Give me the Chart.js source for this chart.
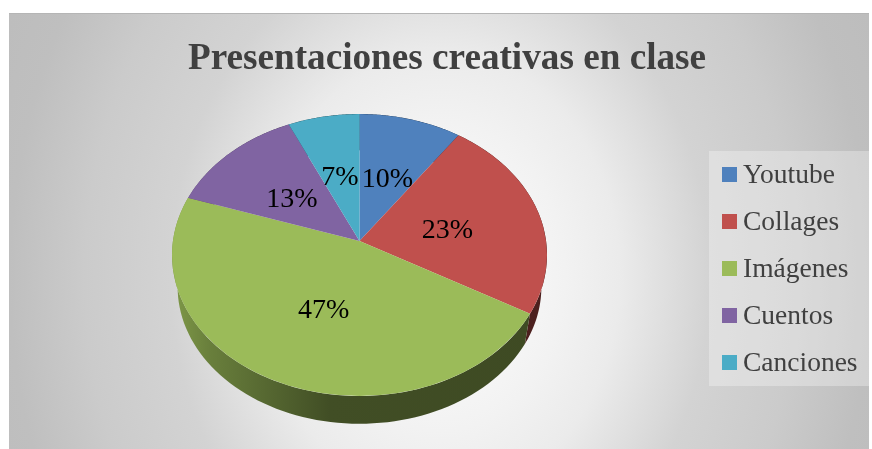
<!DOCTYPE html>
<html>
<head>
<meta charset="utf-8">
<title>Presentaciones creativas en clase</title>
<script src="https://cdn.jsdelivr.net/npm/chart.js@4"></script>
<style>
    html, body { margin: 0; padding: 0; background: #fff; }
    #frame {
        position: absolute; left: 9px; top: 13px; width: 860px; height: 436px;
        border-top: 1px solid #b5b5b5; box-sizing: border-box;
        background: radial-gradient(ellipse 500px 620px at 431px 262px, #ffffff 0%, #f2f2f2 25%, #ebebeb 36%, #d3d3d3 54%, #cbcbcb 71%, #bfbfbf 86%, #bcbcbc 100%);
    }
    #frame canvas { position: absolute; left: 0; top: 0; }
    #legend {
        position: absolute; left: 700px; top: 137px; width: 160px; height: 235px;
        background: rgba(255,255,255,0.3);
        font: 27.5px "Liberation Serif", serif; color: #404040;
    }
    #legend div { position: absolute; left: 34px; line-height: 32px; white-space: nowrap; }
    #legend span { position: absolute; left: -21px; top: 9px; width: 15px; height: 15px; }
</style>
</head>
<body>
<div id="frame">
    <canvas id="pie" width="860" height="436"></canvas>
    <div id="legend"></div>
</div>
<script>
const titleText = "Presentaciones creativas en clase";
const categories = ["Youtube", "Collages", "Imágenes", "Cuentos", "Canciones"];
const percentages = [10, 23, 47, 13, 7];
const sliceColors = ["#4f81bd", "#c0504d", "#9bbb59", "#8064a2", "#4bacc6"];

// Tilted pie look: ellipse of the top face, and the point the slices meet at
const face = { cx: 350.5, cy: 241, rx: 187.5, ry: 141 };
const apex = { x: 350.5, y: 227 };
const squash = 0.776;
// the base is a bit smaller and lower than the top face
const baseScale = 0.97;
const baseDrop = 32;

function shade(hex, f) {
    const n = parseInt(hex.slice(1), 16);
    return `rgb(${(n >> 16) * f | 0},${((n >> 8) & 255) * f | 0},${(n & 255) * f | 0})`;
}

// Where a slice edge at this chart angle hits the rim of the top face
function rimPoint(angle) {
    const dx = Math.cos(angle), dy = Math.sin(angle) * squash;
    const ox = (apex.x - face.cx) / face.rx, oy = (apex.y - face.cy) / face.ry;
    const ax = dx / face.rx, ay = dy / face.ry;
    const a = ax * ax + ay * ay, b = 2 * (ox * ax + oy * ay), c = ox * ox + oy * oy - 1;
    const t = (-b + Math.sqrt(b * b - 4 * a * c)) / (2 * a);
    return { x: apex.x + dx * t, y: apex.y + dy * t };
}

const tiltedPie = {
    id: "tiltedPie",
    beforeDatasetDraw(chart) {
        const ctx = chart.ctx;
        const arcs = chart.getDatasetMeta(0).data;

        // side wall under the rim
        arcs.forEach((arc, i) => {
            const rim = [];
            for (let s = 0; s <= 80; s++) {
                rim.push(rimPoint(arc.startAngle + (arc.endAngle - arc.startAngle) * s / 80));
            }
            const g = ctx.createLinearGradient(face.cx - face.rx, 0, face.cx + face.rx, 0);
            g.addColorStop(0, shade(sliceColors[i], 0.82));
            g.addColorStop(0.1, shade(sliceColors[i], 0.68));
            g.addColorStop(0.42, shade(sliceColors[i], 0.42));
            g.addColorStop(1, shade(sliceColors[i], 0.4));
            ctx.beginPath();
            rim.forEach((p, k) => k ? ctx.lineTo(p.x, p.y) : ctx.moveTo(p.x, p.y));
            rim.reverse().forEach(p => ctx.lineTo(
                face.cx + (p.x - face.cx) * baseScale,
                face.cy + baseDrop + (p.y - face.cy) * baseScale
            ));
            ctx.closePath();
            ctx.fillStyle = g;
            ctx.fill();
        });

        // slices are drawn big by the library, then cut to the ellipse
        ctx.save();
        ctx.beginPath();
        ctx.ellipse(face.cx, face.cy, face.rx, face.ry, 0, 0, Math.PI * 2);
        ctx.clip();
        ctx.translate(apex.x, apex.y);
        ctx.scale(1, squash);
        ctx.translate(-arcs[0].x, -arcs[0].y);
    },
    afterDatasetDraw(chart) {
        const ctx = chart.ctx;
        ctx.restore();

        // percentage labels
        ctx.font = '28px "Liberation Serif", serif';
        ctx.fillStyle = "#000";
        ctx.textAlign = "center";
        ctx.textBaseline = "middle";
        chart.getDatasetMeta(0).data.forEach((arc, i) => {
            const mid = (arc.startAngle + arc.endAngle) / 2;
            ctx.fillText(percentages[i] + "%", apex.x + Math.cos(mid) * 90, apex.y + 5 + Math.sin(mid) * 70);
        });
    }
};

new Chart(document.getElementById("pie"), {
    type: "pie",
    data: {
        labels: categories,
        datasets: [{
            data: percentages,
            backgroundColor: sliceColors,
            borderWidth: 0,
            radius: 320,
            clip: false
        }]
    },
    options: {
        responsive: false,
        animation: false,
        layout: { padding: { left: 16 } },
        plugins: {
            legend: { display: false },
            tooltip: { enabled: false },
            title: {
                display: true,
                text: titleText,
                color: "#404040",
                font: { family: '"Liberation Serif", serif', size: 37.2, weight: "bold" },
                padding: { top: 23, bottom: 10 }
            }
        }
    },
    plugins: [tiltedPie]
});

// Legend
const legend = document.getElementById("legend");
categories.forEach((name, i) => {
    const row = document.createElement("div");
    row.style.top = (7 + i * 47) + "px";
    row.innerHTML = `<span style="background:${sliceColors[i]}"></span>${name}`;
    legend.appendChild(row);
});
</script>
</body>
</html>
